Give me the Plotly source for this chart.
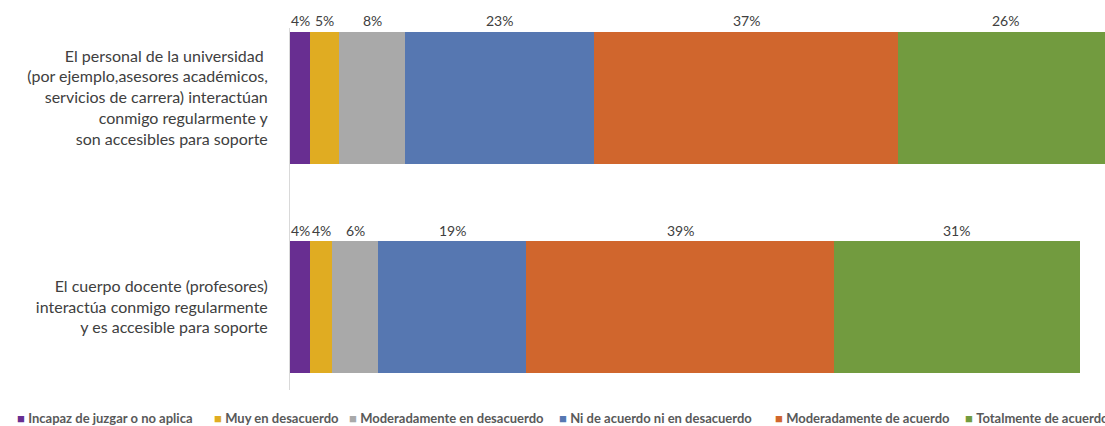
import plotly.graph_objects as go

# categories, top to bottom
categories = [
    "El personal de la universidad <br>(por ejemplo,asesores académicos,<br>servicios de carrera) interactúan<br>conmigo regularmente y<br>son accesibles para soporte",
    "El cuerpo docente (profesores)<br>interactúa conmigo regularmente<br>y es accesible para soporte",
]

series_names = [
    "Incapaz de juzgar o no aplica",
    "Muy en desacuerdo",
    "Moderadamente en desacuerdo",
    "Ni de acuerdo ni en desacuerdo",
    "Moderadamente de acuerdo",
    "Totalmente de acuerdo",
]

# segment lengths (percent), one list per series: [personal, docente]
incapaz = [2.57, 2.53]
muy_desacuerdo = [3.58, 2.82]
mod_desacuerdo = [8.44, 5.78]
ni_ni = [23.9, 18.72]
mod_acuerdo = [38.45, 38.95]
totalmente = [27.2, 31.07]

# data labels as printed on the chart
incapaz_lbl = ["4%", "4%"]
muy_desacuerdo_lbl = ["5%", "4%"]
mod_desacuerdo_lbl = ["8%", "6%"]
ni_ni_lbl = ["23%", "19%"]
mod_acuerdo_lbl = ["37%", "39%"]
totalmente_lbl = ["26%", "31%"]

colors = ["#682E91", "#E0AC22", "#A9A9A9", "#5677B1", "#D0662D", "#729B3F"]

series = [incapaz, muy_desacuerdo, mod_desacuerdo, ni_ni, mod_acuerdo, totalmente]
labels = [incapaz_lbl, muy_desacuerdo_lbl, mod_desacuerdo_lbl, ni_ni_lbl,
          mod_acuerdo_lbl, totalmente_lbl]

FONT = "Lato, 'Open Sans', sans-serif"
TXT = "#404040"

fig = go.Figure()
annotations = []
base = [0.0] * len(categories)
for name, vals, lbls, col in zip(series_names, series, labels, colors):
    fig.add_trace(go.Bar(
        y=categories, x=vals, name=name, orientation="h",
        marker=dict(color=col, line=dict(width=0)),
        showlegend=False, hoverinfo="x+name",
    ))
    for i, (v, t) in enumerate(zip(vals, lbls)):
        annotations.append(dict(
            x=base[i] + v / 2, y=categories[i], xref="x", yref="y",
            text=t, showarrow=False, yshift=77, yanchor="middle",
            font=dict(family=FONT, size=14, color=TXT),
        ))
        base[i] += v

# legend drawn as a row of annotations (marker square + text)
legend_px = [15, 212, 347, 557, 773, 963]
left, width = 290, 815
for name, col, px in zip(series_names, colors, legend_px):
    annotations.append(dict(
        x=(px - left) / width, y=-0.077, xref="paper", yref="paper",
        xanchor="left", yanchor="middle", showarrow=False,
        text=f'<span style="color:{col}">■</span> <b>{name}</b>',
        font=dict(family=FONT, size=13, color="#595959"),
    ))

fig.update_layout(
    barmode="stack",
    bargap=0.37,
    width=1105, height=426,
    margin=dict(l=290, r=0, t=28, b=36),
    paper_bgcolor="white", plot_bgcolor="white",
    font=dict(family=FONT, color=TXT),
    annotations=annotations,
    xaxis=dict(range=[0, 103.07], visible=False, fixedrange=True),
    yaxis=dict(
        range=[1.396, -0.332], showline=True, linecolor="#D9D9D9", linewidth=1,
        showgrid=False, ticks="", zeroline=False,
        ticklabelstandoff=18, tickfont=dict(family=FONT, size=16, color=TXT),
    ),
)

# drop the default 8px body margin so the figure fills the window exactly
fig.write_html("out.html", config={"displayModeBar": False},
               post_script="document.body.style.margin='0';")
